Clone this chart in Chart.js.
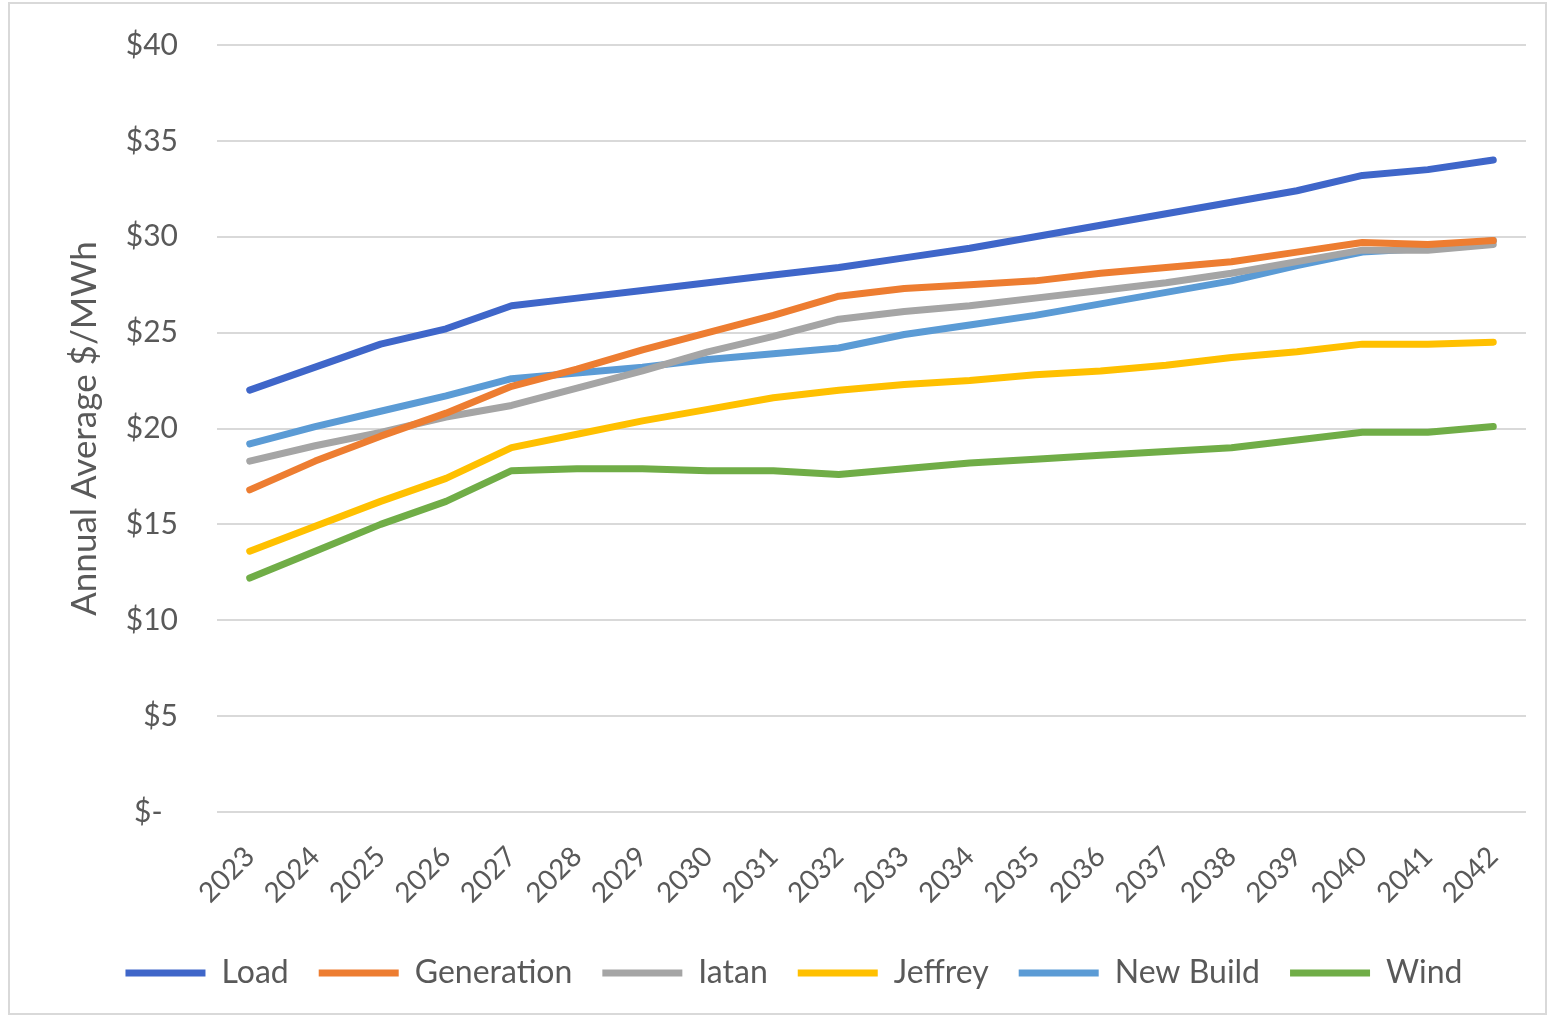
<!DOCTYPE html>
<html>
<head>
<meta charset="utf-8">
<script src="https://cdn.jsdelivr.net/npm/chart.js@4"></script>
<style>
  html, body { margin: 0; padding: 0; background: #ffffff; }
  #wrap { position: relative; width: 1557px; height: 1023px; }
  #frame { position: absolute; left: 8px; top: 2px; width: 1539px; height: 1013px; border: 2px solid #d9d9d9; box-sizing: border-box; pointer-events: none; }
  canvas { position: absolute; left: 0; top: 0; }
</style>
</head>
<body>
<div id="wrap">
  <canvas id="c" width="1557" height="1023"></canvas>
  <div id="frame"></div>
</div>
<script>
const years = ['2023','2024','2025','2026','2027','2028','2029','2030','2031','2032','2033','2034','2035','2036','2037','2038','2039','2040','2041','2042'];
const load       = [22.0, 23.2, 24.4, 25.2, 26.4, 26.8, 27.2, 27.6, 28.0, 28.4, 28.9, 29.4, 30.0, 30.6, 31.2, 31.8, 32.4, 33.2, 33.5, 34.0];
const generation = [16.8, 18.3, 19.6, 20.8, 22.2, 23.1, 24.1, 25.0, 25.9, 26.9, 27.3, 27.5, 27.7, 28.1, 28.4, 28.7, 29.2, 29.7, 29.6, 29.8];
const iatan      = [18.3, 19.1, 19.8, 20.6, 21.2, 22.1, 23.0, 24.0, 24.8, 25.7, 26.1, 26.4, 26.8, 27.2, 27.6, 28.1, 28.7, 29.3, 29.3, 29.6];
const jeffrey    = [13.6, 14.9, 16.2, 17.4, 19.0, 19.7, 20.4, 21.0, 21.6, 22.0, 22.3, 22.5, 22.8, 23.0, 23.3, 23.7, 24.0, 24.4, 24.4, 24.5];
const newBuild   = [19.2, 20.1, 20.9, 21.7, 22.6, 22.9, 23.2, 23.6, 23.9, 24.2, 24.9, 25.4, 25.9, 26.5, 27.1, 27.7, 28.5, 29.2, 29.4, 29.8];
const wind       = [12.2, 13.6, 15.0, 16.2, 17.8, 17.9, 17.9, 17.8, 17.8, 17.6, 17.9, 18.2, 18.4, 18.6, 18.8, 19.0, 19.4, 19.8, 19.8, 20.1];
const seriesNames = ['Load','Generation','Iatan','Jeffrey','New Build','Wind'];
const seriesColors = ['#3f66c9','#ed7d31','#a5a5a5','#ffc000','#5b9bd5','#70ad47'];
const seriesData = [load, generation, iatan, jeffrey, newBuild, wind];
const yMin = 0, yMax = 40, yStep = 5;
const yTitle = 'Annual Average $/MWh';

const FONT = 'Lato, "Open Sans", sans-serif';
const TXT = '#595959';

const datasets = seriesNames.map((name, i) => ({
  label: name,
  data: seriesData[i],
  borderColor: seriesColors[i],
  backgroundColor: seriesColors[i],
  borderWidth: 7,
  pointRadius: 0,
  pointHoverRadius: 0,
  tension: 0,
  borderJoinStyle: 'round',
  borderCapStyle: 'round',
  pointStyle: 'line'
}));

const legendShift = {
  id: 'legendShift',
  afterLayout(chart) {
    if (chart.legend) { chart.legend.left += 26; chart.legend.right += 26; }
  }
};

new Chart(document.getElementById('c'), {
  type: 'line',
  data: { labels: years, datasets },
  plugins: [legendShift],
  options: {
    responsive: false,
    animation: false,
    devicePixelRatio: 1,
    layout: { padding: { left: 10, right: 31, top: 45, bottom: 24 } },
    plugins: {
      tooltip: { enabled: false },
      legend: {
        position: 'bottom',
        labels: {
          usePointStyle: true,
          pointStyle: 'line',
          pointStyleWidth: 80,
          boxHeight: 32,
          padding: 30,
          color: TXT,
          font: { family: FONT, size: 32 }
        }
      }
    },
    scales: {
      x: {
        offset: true,
        grid: { display: false, drawTicks: false },
        border: { display: false },
        ticks: {
          color: TXT,
          font: { family: FONT, size: 28 },
          maxRotation: 45,
          minRotation: 45,
          autoSkip: false,
          padding: 28
        },
        afterFit: (s) => { s.height = 115; }
      },
      y: {
        min: yMin,
        max: yMax,
        grid: { color: '#d9d9d9', lineWidth: 2, drawTicks: true, tickLength: 39, tickColor: 'rgba(0,0,0,0)' },
        border: { display: false },
        ticks: {
          stepSize: yStep,
          color: TXT,
          padding: 0,
          font: { family: FONT, size: 30 },
          callback: (v) => v === 0 ? '$-  ' : '$' + v
        },
        title: {
          display: true,
          text: yTitle,
          color: TXT,
          font: { family: FONT, size: 35, weight: 'normal' },
          padding: { top: 54, bottom: 0 }
        },
        afterFit: (s) => { s.width = 207; }
      }
    }
  }
});
</script>
</body>
</html>
